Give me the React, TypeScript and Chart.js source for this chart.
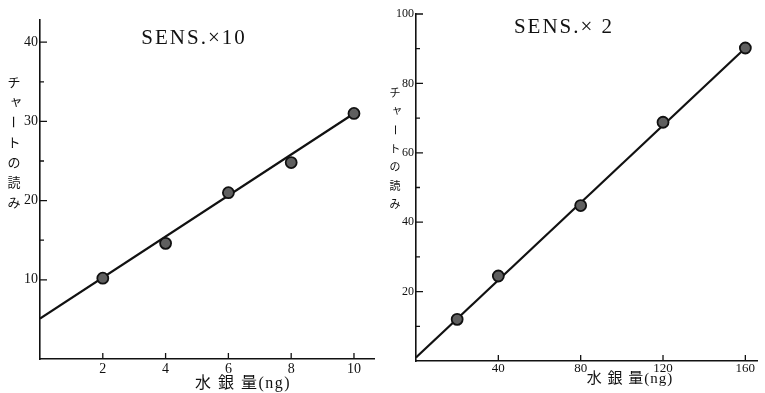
import React, { useEffect, useRef } from "react";
import { Chart, registerables } from "chart.js";
Chart.register(...registerables);

// ---- Left panel: SENS.×10 ----
const leftTitle = "SENS.×10";
const leftAmountNg = [2, 4, 6, 8, 10];
const leftReading = [10.2, 14.6, 21.0, 24.8, 31.0];
const leftFitAmount = [0, 10];
const leftFitReading = [5.1, 31.0];
const leftXTicks = [2, 4, 6, 8, 10];
const leftYTicks = [10, 20, 30, 40];
const leftYMinorTicks = [15, 25, 35];

// ---- Right panel: SENS.× 2 ----
const rightTitle = "SENS.× 2";
const rightAmountNg = [20, 40, 80, 120, 160];
const rightReading = [12.0, 24.5, 44.8, 68.8, 90.2];
const rightFitAmount = [0, 160];
const rightFitReading = [1.0, 90.2];
const rightXTicks = [40, 80, 120, 160];
const rightYTicks = [20, 40, 60, 80, 100];
const rightYMinorTicks = [10, 30, 50, 70, 90];

const yAxisTitle = "チャートの読み";
const xAxisTitle = "水 銀 量(ng)";

const INK = "#111";
const SERIF = "'Liberation Serif', 'DejaVu Serif', serif";
const CJK = "'Noto Sans CJK JP', sans-serif";

const decorPlugin = {
  id: "decor",
  afterDraw(chart: any, _args: any, opts: any) {
    const ctx = chart.ctx as CanvasRenderingContext2D;
    const xs = chart.scales.x;
    const ys = chart.scales.y;
    const { left, bottom } = chart.chartArea;
    ctx.save();
    ctx.strokeStyle = INK;
    ctx.lineWidth = 1.3;
    ctx.beginPath();
    for (const v of opts.yMajor) {
      const p = ys.getPixelForValue(v);
      ctx.moveTo(left, p);
      ctx.lineTo(left + 7, p);
    }
    for (const v of opts.yMinor) {
      const p = ys.getPixelForValue(v);
      ctx.moveTo(left, p);
      ctx.lineTo(left + 4, p);
    }
    for (const v of opts.xMajor) {
      const p = xs.getPixelForValue(v);
      ctx.moveTo(p, bottom);
      ctx.lineTo(p, bottom - 6);
    }
    ctx.stroke();

    ctx.fillStyle = INK;
    ctx.textAlign = "center";
    ctx.textBaseline = "middle";
    // panel title
    ctx.font = opts.titleFont;
    (ctx as any).letterSpacing = opts.titleSpacing;
    ctx.fillText(opts.title, opts.titleX, opts.titleY);
    // x axis title
    ctx.font = opts.xTitleFont;
    (ctx as any).letterSpacing = opts.xTitleSpacing;
    ctx.fillText(opts.xTitle, opts.xTitleX, opts.xTitleY);
    // vertical y axis title
    (ctx as any).letterSpacing = "0px";
    ctx.font = opts.yTitleFont;
    Array.from(opts.yTitle as string).forEach((ch, i) => {
      const y = opts.yTitleTop + i * opts.yTitleStep;
      if (ch === "ー") {
        ctx.save();
        ctx.translate(opts.yTitleX, y);
        ctx.rotate(Math.PI / 2);
        ctx.fillText(ch, 0, 0);
        ctx.restore();
      } else if (ch === "ャ") {
        ctx.fillText(ch, opts.yTitleX + 2, y - 2);
      } else {
        ctx.fillText(ch, opts.yTitleX, y);
      }
    });
    ctx.restore();
  },
};

function buildChart(canvas: HTMLCanvasElement, p: any) {
  return new Chart(canvas, {
    type: "scatter",
    data: {
      datasets: [
        {
          data: p.xs.map((x: number, i: number) => ({ x, y: p.ys[i] })),
          pointRadius: 5.5,
          pointBackgroundColor: "#5f5f5f",
          pointBorderColor: "#111",
          pointBorderWidth: 1.8,
          showLine: false,
          order: 0,
        },
        {
          data: p.fx.map((x: number, i: number) => ({ x, y: p.fy[i] })),
          showLine: true,
          borderColor: INK,
          borderWidth: 2.2,
          pointRadius: 0,
          order: 1,
        },
      ],
    },
    options: {
      responsive: false,
      animation: false,
      layout: { padding: { top: p.padTop, right: p.padRight, left: 0, bottom: 0 } },
      plugins: {
        legend: { display: false },
        tooltip: { enabled: false },
        decor: p.decor,
      } as any,
      scales: {
        x: {
          type: "linear",
          min: 0,
          max: p.xMax,
          grid: { display: false, drawTicks: false },
          border: { display: true, color: INK, width: 1.6 },
          ticks: {
            autoSkip: false,
            maxRotation: 0,
            padding: p.xPad,
            color: INK,
            font: { family: SERIF, size: p.xFont },
            callback: (v: any) => String(v),
          },
          afterBuildTicks: (s: any) => {
            s.ticks = p.xTicks.map((v: number) => ({ value: v }));
          },
          afterFit: (s: any) => {
            s.height = p.xH;
          },
        },
        y: {
          type: "linear",
          min: 0,
          max: p.yMax,
          grid: { display: false, drawTicks: false },
          border: { display: true, color: INK, width: 1.6 },
          ticks: {
            autoSkip: false,
            padding: 2,
            color: INK,
            font: { family: SERIF, size: p.yFont },
            callback: (v: any) => String(v),
          },
          afterBuildTicks: (s: any) => {
            s.ticks = p.yTicks.map((v: number) => ({ value: v }));
          },
          afterFit: (s: any) => {
            s.width = p.yW;
          },
        },
      },
    } as any,
    plugins: [decorPlugin as any],
  });
}

export default function App() {
  const leftRef = useRef<HTMLCanvasElement>(null);
  const rightRef = useRef<HTMLCanvasElement>(null);

  useEffect(() => {
    const l = buildChart(leftRef.current!, {
      xs: leftAmountNg,
      ys: leftReading,
      fx: leftFitAmount,
      fy: leftFitReading,
      xTicks: leftXTicks,
      yTicks: leftYTicks,
      xMax: 10.66,
      yMax: 42.8,
      padTop: 20,
      padRight: 3,
      xH: 34,
      yW: 40,
      xPad: 2,
      xFont: 14,
      yFont: 14,
      decor: {
        yMajor: leftYTicks,
        yMinor: leftYMinorTicks,
        xMajor: leftXTicks,
        title: leftTitle,
        titleFont: `21px ${SERIF}`,
        titleSpacing: "2px",
        titleX: 194,
        titleY: 38,
        xTitle: xAxisTitle,
        xTitleFont: `16px 'Liberation Serif', ${CJK}`,
        xTitleSpacing: "1.5px",
        xTitleX: 243,
        xTitleY: 384,
        yTitle: yAxisTitle,
        yTitleFont: `13px ${CJK}`,
        yTitleX: 14,
        yTitleTop: 82,
        yTitleStep: 20,
      },
    });
    const r = buildChart(rightRef.current!, {
      xs: rightAmountNg,
      ys: rightReading,
      fx: rightFitAmount,
      fy: rightFitReading,
      xTicks: rightXTicks,
      yTicks: rightYTicks,
      xMax: 166,
      yMax: 100,
      padTop: 14,
      padRight: 2,
      xH: 32,
      yW: 34,
      xPad: 0,
      xFont: 13,
      yFont: 12,
      decor: {
        yMajor: rightYTicks,
        yMinor: rightYMinorTicks,
        xMajor: rightXTicks,
        title: rightTitle,
        titleFont: `21px ${SERIF}`,
        titleSpacing: "2px",
        titleX: 182,
        titleY: 27,
        xTitle: xAxisTitle,
        xTitleFont: `15px 'Liberation Serif', ${CJK}`,
        xTitleSpacing: "1px",
        xTitleX: 248,
        xTitleY: 379,
        yTitle: yAxisTitle,
        yTitleFont: `11px ${CJK}`,
        yTitleX: 13,
        yTitleTop: 93,
        yTitleStep: 18.5,
      },
    });
    return () => {
      l.destroy();
      r.destroy();
    };
  }, []);

  return (
    <div style={{ position: "absolute", left: 0, top: 0, width: 765, height: 393, background: "#fff" }}>
      <canvas ref={leftRef} width={382} height={393} style={{ position: "absolute", left: 0, top: 0, display: "block" }} />
      <canvas ref={rightRef} width={383} height={393} style={{ position: "absolute", left: 382, top: 0, display: "block" }} />
    </div>
  );
}
